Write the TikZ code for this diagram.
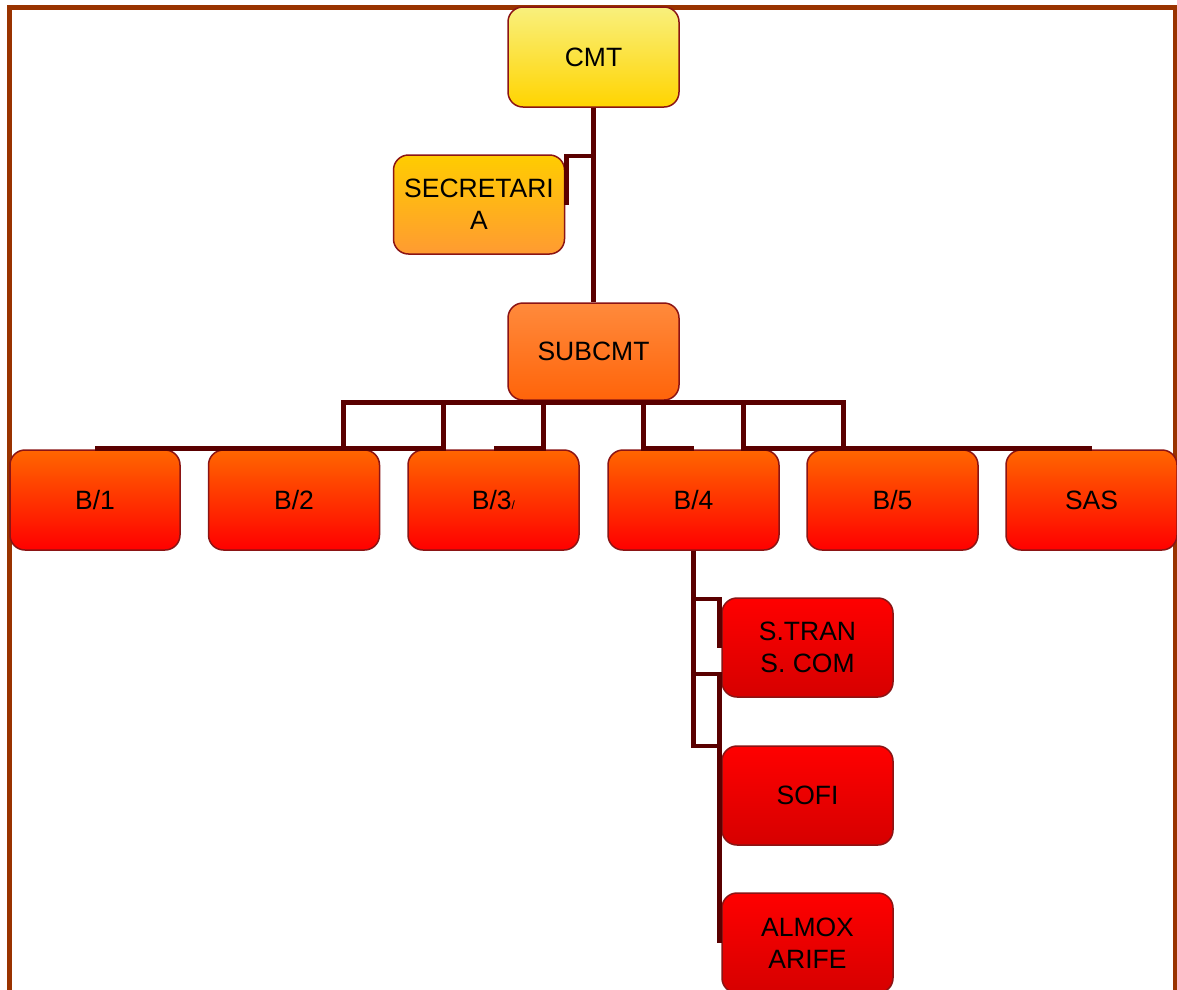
\documentclass[tikz,border=0pt]{standalone}
\usepackage{fontspec}
\setmainfont{Liberation Sans}
\definecolor{frame}{HTML}{993300}
\definecolor{conncol}{HTML}{5A0000}
\definecolor{boxline}{HTML}{8B1414}
\tikzset{
  box/.style={draw=boxline, line width=1.5pt, rounded corners=15pt, shading=axis,
    minimum width=171pt, minimum height=99pt, inner sep=0pt, align=center,
    font=\fontsize{26.5}{32}\selectfont, text=black},
  yel/.style={box, top color={rgb,255:red,249;green,240;blue,125}, bottom color={rgb,255:red,255;green,212;blue,0}},
  sec/.style={box, top color={rgb,255:red,255;green,204;blue,0}, bottom color={rgb,255:red,255;green,155;blue,50}},
  orng/.style={box, top color={rgb,255:red,255;green,138;blue,60}, bottom color={rgb,255:red,255;green,100;blue,10}},
  brow/.style={box, top color={rgb,255:red,255;green,102;blue,0}, bottom color={rgb,255:red,255;green,0;blue,0}},
  redb/.style={box, top color={rgb,255:red,255;green,0;blue,0}, bottom color={rgb,255:red,214;green,0;blue,0}},
  conn/.style={draw=conncol, line width=4.5pt},
  framel/.style={draw=frame, line width=5pt}
}
\begin{document}
\begin{tikzpicture}[x=1pt,y=-1pt]
\useasboundingbox (0,0) rectangle (1177,989);
\fill[white] (0,0) rectangle (1177,989);
\draw[framel] (9.5,995) -- (9.5,7.5) -- (1175.5,7.5) -- (1175.5,995);

\node[yel, minimum height=100pt] (cmt) at (593.5,57) {CMT};
\node[sec] (sec) at (479,204.5) {SECRETARI\\A};
\node[orng, minimum height=97pt] (sub) at (593.5,351.5) {SUBCMT};

\node[brow, minimum width=170pt, minimum height=100pt] (b1) at (95,500) {B/1};
\node[brow, minimum height=100pt] (b2) at (294,500) {B/2};
\node[brow, minimum height=100pt] (b3) at (493.5,500) {B/3{\fontsize{12}{12}\selectfont /}};
\node[brow, minimum height=100pt] (b4) at (693.5,500) {B/4};
\node[brow, minimum height=100pt] (b5) at (892.5,500) {B/5};
\node[brow, minimum height=100pt] (sas) at (1091.5,500) {SAS};

\node[redb] (st) at (807.5,647.5) {S.TRAN\\S. COM};
\node[redb] (sofi) at (807.5,795.5) {SOFI};
\node[redb, minimum height=100pt] (alm) at (807.5,943) {ALMOX\\ARIFE};

% connectors
\draw[conn] (cmt.south) -- (sub.north);
\draw[conn] (cmt.south) -- ++(0,48) -| ([xshift=1pt]sec.east);

\draw[conn] ([yshift=-1.5pt]sub.south) -- ++(-250,0) |- ([yshift=1pt]b1.north);
\draw[conn] ([yshift=-1.5pt]sub.south) -- ++(-150,0) |- ([yshift=1pt]b2.north);
\draw[conn] ([yshift=-1.5pt]sub.south) -- ++(-50,0) |- ([yshift=1pt]b3.north);
\draw[conn] ([yshift=-1.5pt]sub.south) -- ++(50,0) |- ([yshift=1pt]b4.north);
\draw[conn] ([yshift=-1.5pt]sub.south) -- ++(150,0) |- ([yshift=1pt]b5.north);
\draw[conn] ([yshift=-1.5pt]sub.south) -- ++(250,0) |- ([yshift=1pt]sas.north);

\draw[conn] (b4.south) -- ++(0,48) -| ([xshift=-2pt]st.west);
\draw[conn] (b4.south) -- ++(0,123) -| ([xshift=-2pt]sofi.west);
\draw[conn] (b4.south) -- ++(0,195) -| ([xshift=-2pt]alm.west);
\end{tikzpicture}
\end{document}
